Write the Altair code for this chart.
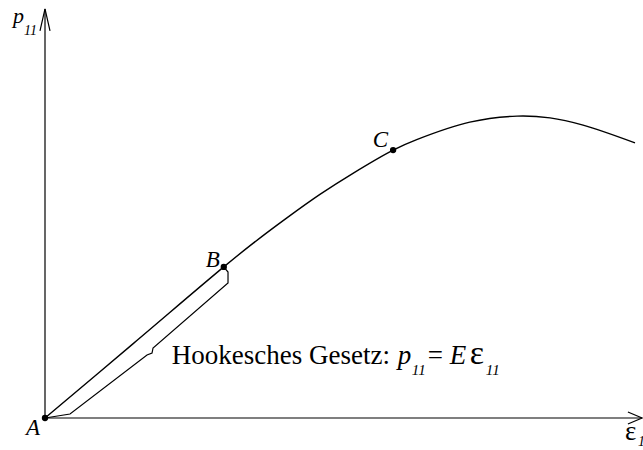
import altair as alt
import pandas as pd

# Stress-strain curve in arbitrary units (strain: % of plotted range, stress: % of peak)
strain = [0, 15.0, 30.3, 35.3, 41.0, 46.6, 52.2, 59.0, 63.0, 72.0, 80.0, 85.6, 91.2, 100.0]
stress = [0, 24.8, 50.2, 58.1, 66.5, 74.3, 81.3, 89.0, 92.5, 98.3, 100.3, 99.7, 97.3, 91.4]

# Marked points on the curve
point_names = ["A", "B", "C"]
point_strain = [0, 30.3, 59.0]
point_stress = [0, 50.2, 89.0]

# Brace under the linear (Hookean) part, from A to B
brace_strain = [0, 4.24, 17.29, 18.14, 18.31, 31.02, 31.02, 30.3]
brace_stress = [0, 1.33, 20.93, 21.59, 23.26, 44.85, 48.5, 50.2]

# Coordinate axes with open arrow heads
axis_end_strain = 101.2
axis_end_stress = 135.9
x_head_strain = [98.8, 101.2, 98.8]
x_head_stress = [2.0, 0.0, -2.0]
y_head_strain = [-0.85, 0.0, 0.85]
y_head_stress = [128.6, 135.9, 128.6]

# Anchor of the Hooke's law annotation
law_strain = 21.5
law_stress = 17.9

FONT = "Liberation Serif"
W, H = 643, 450

xs = alt.Scale(domain=[-7.627, 101.356], nice=False, zero=False)
ys = alt.Scale(domain=[-10.63, 138.87], nice=False, zero=False)


def polyline(xv, yv, width=1.3):
    df = pd.DataFrame({"x": xv, "y": yv, "o": list(range(len(xv)))})
    return alt.Chart(df).mark_line(color="black", strokeWidth=width).encode(
        x=alt.X("x:Q", scale=xs, axis=None),
        y=alt.Y("y:Q", scale=ys, axis=None),
        order="o:O",
    )


def label(text, xv, yv, size, italic=False, dx=0, dy=0, align="left"):
    df = pd.DataFrame({"x": [xv], "y": [yv], "t": [text]})
    kw = dict(font=FONT, fontSize=size, color="black", align=align,
              baseline="alphabetic", dx=dx, dy=dy)
    if italic:
        kw["fontStyle"] = "italic"
    return alt.Chart(df).mark_text(**kw).encode(
        x=alt.X("x:Q", scale=xs, axis=None),
        y=alt.Y("y:Q", scale=ys, axis=None),
        text="t:N",
    )


layers = []
# axes
layers.append(polyline([0, axis_end_strain], [0, 0], 1.2))
layers.append(polyline([0, 0], [0, axis_end_stress], 1.2))
layers.append(polyline(x_head_strain, x_head_stress, 1.2))
layers.append(polyline(y_head_strain, y_head_stress, 1.2))

# curve
curve_df = pd.DataFrame({"strain": strain, "stress": stress})
layers.append(
    alt.Chart(curve_df).mark_line(color="black", strokeWidth=1.4, interpolate="catmull-rom").encode(
        x=alt.X("strain:Q", scale=xs, axis=None),
        y=alt.Y("stress:Q", scale=ys, axis=None),
    )
)

# brace
layers.append(polyline(brace_strain, brace_stress, 1.2))

# points
pts_df = pd.DataFrame({"name": point_names, "strain": point_strain, "stress": point_stress})
layers.append(
    alt.Chart(pts_df).mark_circle(color="black", size=40, opacity=1).encode(
        x=alt.X("strain:Q", scale=xs, axis=None),
        y=alt.Y("stress:Q", scale=ys, axis=None),
    )
)

# point labels
offsets = {"A": (-5, 17), "B": (-4, 0), "C": (-5, -3)}
for n, sx, sy in zip(point_names, point_strain, point_stress):
    dx, dy = offsets[n]
    layers.append(label(n, sx, sy, 23, italic=True, dx=dx, dy=dy, align="right"))

# axis titles
layers.append(label("p", 0, axis_end_stress, 22, italic=True, dx=-32, dy=14))
layers.append(label("11", 0, axis_end_stress, 14, italic=True, dx=-21, dy=26))
layers.append(label("\u03b5", axis_end_strain, 0, 27, dx=-17, dy=22))
layers.append(label("11", axis_end_strain, 0, 14, italic=True, dx=-4, dy=28))

# Hooke's law annotation
layers.append(label("Hookesches Gesetz:", law_strain, law_stress, 27))
layers.append(label("p", law_strain, law_stress, 27, italic=True, dx=226))
layers.append(label("11", law_strain, law_stress, 15, italic=True, dx=240, dy=11))
layers.append(label("=", law_strain, law_stress, 27, dx=256))
layers.append(label("E", law_strain, law_stress, 27, italic=True, dx=278))
layers.append(label("\u03b5", law_strain, law_stress, 34, dx=298))
layers.append(label("11", law_strain, law_stress, 15, italic=True, dx=314, dy=11))

chart = alt.layer(*layers).properties(
    width=W, height=H, padding=0,
    autosize=alt.AutoSizeParams(type="none"),
).configure_view(stroke=None)

chart.save("out.html", embed_options={"renderer": "svg", "actions": False})
